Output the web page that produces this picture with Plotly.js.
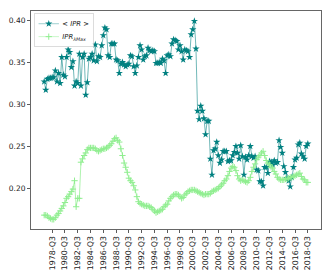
<!DOCTYPE html>
<html>
<head>
<meta charset="utf-8">
<script src="https://cdn.plot.ly/plotly-3.0.1.min.js"></script>
<style>html,body{margin:0;padding:0;background:#fff;}#chart{width:332px;height:277px;}</style>
</head>
<body>
<div id="chart"></div>
<script>
// Quarterly categories: 1977-Q2 .. 2018-Q3
var startYear = 1977, startQuarter = 2, nQuarters = 166;
var quarters = [];
for (var k = 0; k < nQuarters; k++) {
  var q = startQuarter - 1 + k;
  quarters.push((startYear + Math.floor(q / 4)) + '-Q' + (q % 4 + 1));
}

var tickLabels = ['1978-Q3','1980-Q3','1982-Q3','1984-Q3','1986-Q3','1988-Q3','1990-Q3',
  '1992-Q3','1994-Q3','1996-Q3','1998-Q3','2000-Q3','2002-Q3','2004-Q3','2006-Q3',
  '2008-Q3','2010-Q3','2012-Q3','2014-Q3','2016-Q3','2018-Q3'];

var iprMean = [
  0.327,0.317,0.330,0.331,0.331,0.332,0.332,0.340,0.327,0.337,
  0.325,0.356,0.335,0.333,0.356,0.365,0.362,0.344,0.351,0.322,
  0.327,0.325,0.360,0.322,0.356,0.360,0.311,0.326,0.354,0.356,
  0.360,0.352,0.371,0.351,0.357,0.356,0.370,0.382,0.391,0.389,
  0.358,0.356,0.372,0.372,0.372,0.353,0.352,0.337,0.348,0.350,
  0.347,0.345,0.347,0.348,0.358,0.357,0.345,0.337,0.346,0.356,
  0.370,0.365,0.353,0.357,0.358,0.367,0.364,0.363,0.364,0.363,
  0.349,0.349,0.350,0.349,0.354,0.352,0.337,0.358,0.359,0.357,
  0.372,0.377,0.376,0.375,0.365,0.370,0.363,0.353,0.365,0.364,
  0.363,0.356,0.383,0.389,0.399,0.366,0.292,0.282,0.298,0.292,
  0.283,0.264,0.280,0.280,0.235,0.216,0.245,0.247,0.255,0.239,
  0.230,0.234,0.244,0.244,0.244,0.232,0.233,0.233,0.239,0.243,
  0.250,0.242,0.235,0.251,0.238,0.216,0.237,0.234,0.239,0.250,
  0.238,0.236,0.238,0.222,0.221,0.208,0.208,0.203,0.225,0.225,
  0.218,0.232,0.231,0.228,0.233,0.230,0.231,0.257,0.249,0.242,
  0.226,0.219,0.212,0.209,0.202,0.213,0.225,0.234,0.236,0.252,
  0.254,0.241,0.238,0.235,0.250,0.253
];

var iprLambdaMax = [
  0.168,0.168,0.167,0.165,0.164,0.163,0.163,0.165,0.168,0.170,
  0.173,0.176,0.179,0.183,0.188,0.190,0.193,0.196,0.199,0.209,
  0.178,0.188,0.188,0.231,0.235,0.239,0.242,0.246,0.248,0.248,
  0.248,0.248,0.247,0.245,0.244,0.245,0.246,0.247,0.247,0.248,
  0.249,0.251,0.253,0.256,0.259,0.260,0.257,0.255,0.247,0.239,
  0.230,0.225,0.219,0.212,0.209,0.207,0.203,0.198,0.190,0.184,
  0.182,0.181,0.180,0.179,0.179,0.179,0.178,0.177,0.175,0.173,
  0.171,0.172,0.173,0.174,0.175,0.178,0.180,0.181,0.185,0.188,
  0.190,0.192,0.193,0.193,0.192,0.190,0.188,0.189,0.192,0.194,
  0.196,0.197,0.198,0.198,0.198,0.197,0.196,0.195,0.194,0.193,
  0.192,0.193,0.193,0.193,0.194,0.196,0.197,0.198,0.199,0.200,
  0.202,0.204,0.206,0.209,0.211,0.215,0.220,0.224,0.226,0.225,
  0.221,0.215,0.211,0.209,0.210,0.209,0.208,0.207,0.209,0.213,
  0.220,0.225,0.229,0.234,0.237,0.239,0.242,0.244,0.239,0.233,
  0.230,0.228,0.225,0.224,0.220,0.217,0.213,0.211,0.210,0.210,
  0.210,0.211,0.211,0.212,0.213,0.213,0.214,0.215,0.216,0.217,
  0.218,0.214,0.211,0.210,0.207,0.207
];

var traces = [
  {
    x: quarters, y: iprMean, type: 'scatter', mode: 'lines+markers',
    name: '&lt; <i>IPR</i> &gt;',
    line: {color: 'rgba(0,128,128,0.7)', width: 0.8},
    marker: {symbol: 'star', size: 5.5, color: '#008080', line: {width: 0}}
  },
  {
    x: quarters, y: iprLambdaMax, type: 'scatter', mode: 'lines+markers',
    name: '<i>IPR<sub>λMax</sub></i>',
    line: {color: 'rgba(144,238,144,0.9)', width: 0.8},
    marker: {symbol: 'cross-thin', size: 4.5, color: '#90ee90', line: {width: 1, color: '#90ee90'}}
  }
];

var legendScale = 0.68;

var layout = {
  width: 332, height: 277,
  margin: {l: 31, r: 11, t: 11, b: 48, pad: 0},
  paper_bgcolor: '#fff', plot_bgcolor: '#fff',
  font: {family: 'DejaVu Sans', size: 7.5, color: '#222'},
  showlegend: true,
  legend: {
    x: 0.012, y: 0.99, xanchor: 'left', yanchor: 'top',
    bgcolor: 'rgba(255,255,255,0.8)', bordercolor: '#cccccc', borderwidth: 1,
    font: {family: 'DejaVu Sans', size: 10, color: '#222'},
    tracegroupgap: 0, itemwidth: 30
  },
  xaxis: {
    type: 'category', range: [-8.25, 173.25],
    tickmode: 'array', tickvals: tickLabels, ticktext: tickLabels,
    tickangle: -90, ticks: 'outside', ticklen: 3, tickwidth: 0.8, tickcolor: '#333',
    showgrid: false, zeroline: false,
    showline: true, mirror: true, linecolor: '#666', linewidth: 1,
    tickfont: {family: 'DejaVu Sans', size: 7.8, color: '#222'}
  },
  yaxis: {
    range: [0.1515, 0.411],
    tickmode: 'array', tickvals: [0.20, 0.25, 0.30, 0.35, 0.40],
    tickformat: '.2f', ticks: 'outside', ticklen: 3, tickwidth: 0.8, tickcolor: '#333',
    showgrid: false, zeroline: false,
    showline: true, mirror: true, linecolor: '#666', linewidth: 1,
    tickfont: {family: 'DejaVu Sans', size: 7.5, color: '#222'}
  }
};

Plotly.newPlot('chart', traces, layout, {staticPlot: true, displayModeBar: false}).then(function (gd) {
  var lg = gd.querySelector('g.legend');
  if (lg) {
    var t = lg.getAttribute('transform') || '';
    lg.setAttribute('transform', t + ' scale(' + legendScale + ')');
    // enlarge legend markers to compensate for the scaling
    lg.querySelectorAll('path.scatterpts').forEach(function (p) {
      var tr = p.getAttribute('transform') || '';
      p.setAttribute('transform', tr + ' scale(1.45)');
    });
  }
});
</script>
</body>
</html>
